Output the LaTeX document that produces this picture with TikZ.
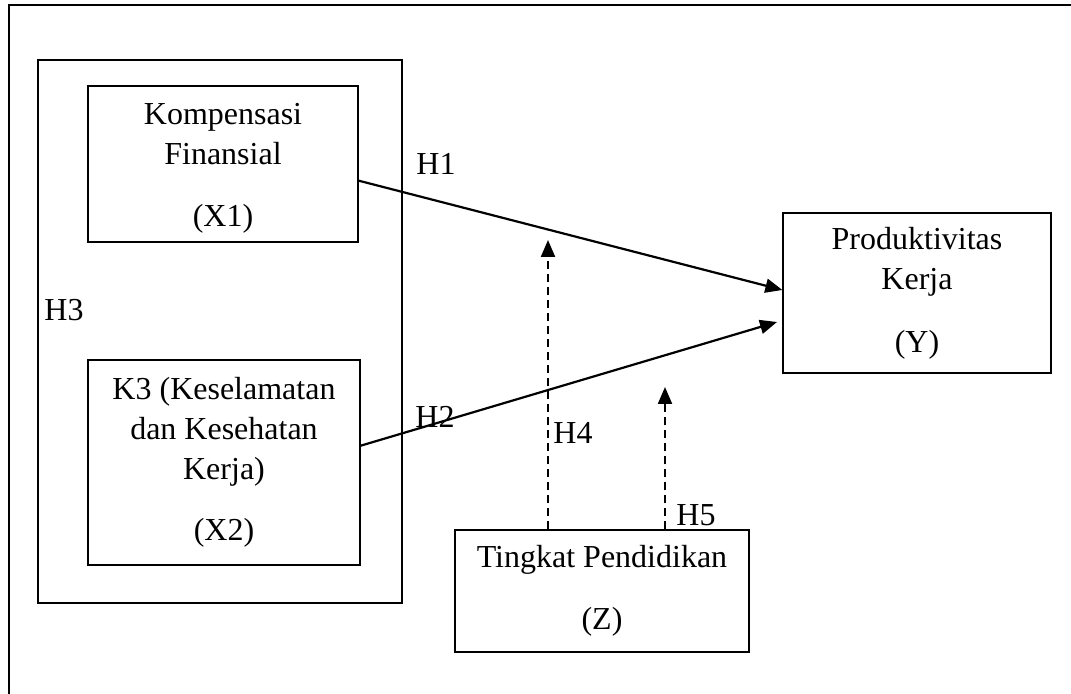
\documentclass[tikz,border=0pt]{standalone}
\usepackage{fontspec}
\setmainfont{Liberation Serif}
\usetikzlibrary{arrows.meta}

\tikzset{
    varbox/.style={draw, line width=0.6pt, align=center, inner sep=0pt,
        font=\fontsize{16}{20}\selectfont},
    hlabel/.style={font=\fontsize{16}{20}\selectfont, inner sep=0pt},
    path/.style={line width=1.1pt, -{Triangle[length=8.5pt,width=7pt]}},
    modpath/.style={line width=1.1pt, dash pattern=on 4pt off 2.5pt,
        -{Triangle[length=8.5pt,width=7pt]}}
}

\begin{document}
\begin{tikzpicture}[x=0.5pt, y=-0.5pt]
    \useasboundingbox (0,0) rectangle (1071,694);

    % Draw outer frame
    \draw[line width=0.8pt] (9,694) -- (9,5) -- (1071,5);

    % Draw the variable boxes
    \node[varbox, minimum width=182pt, minimum height=271.5pt] (grp) at (220,331.5) {};
    \node[varbox, minimum width=135pt, minimum height=78pt] (x1) at (223,164)
        {\rule{0pt}{15pt}Kompensasi\\Finansial\\[11pt](X1)};
    \node[varbox, minimum width=136pt, minimum height=102.5pt] (x2) at (224,462.5)
        {K3 (Keselamatan\\dan Kesehatan\\Kerja)\\[10.5pt](X2)};
    \node[varbox, minimum width=134pt, minimum height=80pt] (y) at (917,293)
        {Produktivitas\\Kerja\\[11.5pt](Y)};
    \node[varbox, minimum width=147pt, minimum height=61pt] (z) at (602,591)
        {Tingkat Pendidikan\\[11pt](Z)};

    % Add hypothesis labels
    \foreach \lab/\px/\py in {H1/436/164, H2/435/417, H3/64/310, H4/573/433, H5/696/515} {
        \node[hlabel] (\lab) at (\px,\py) {\lab};
    }

    % Direct paths
    \draw[path] (x1.-7.6) -- ([yshift=1.5pt]y.west);
    \coordinate (h2end) at (777,322);
    \draw[path] (x2.7) -- (h2end);

    % Moderating paths
    \coordinate (h4end) at (548,240);
    \coordinate (h5end) at (665,387);
    \draw[modpath] (h4end |- z.north) -- (h4end);
    \draw[modpath] (h5end |- z.north) -- (h5end);
\end{tikzpicture}
\end{document}
